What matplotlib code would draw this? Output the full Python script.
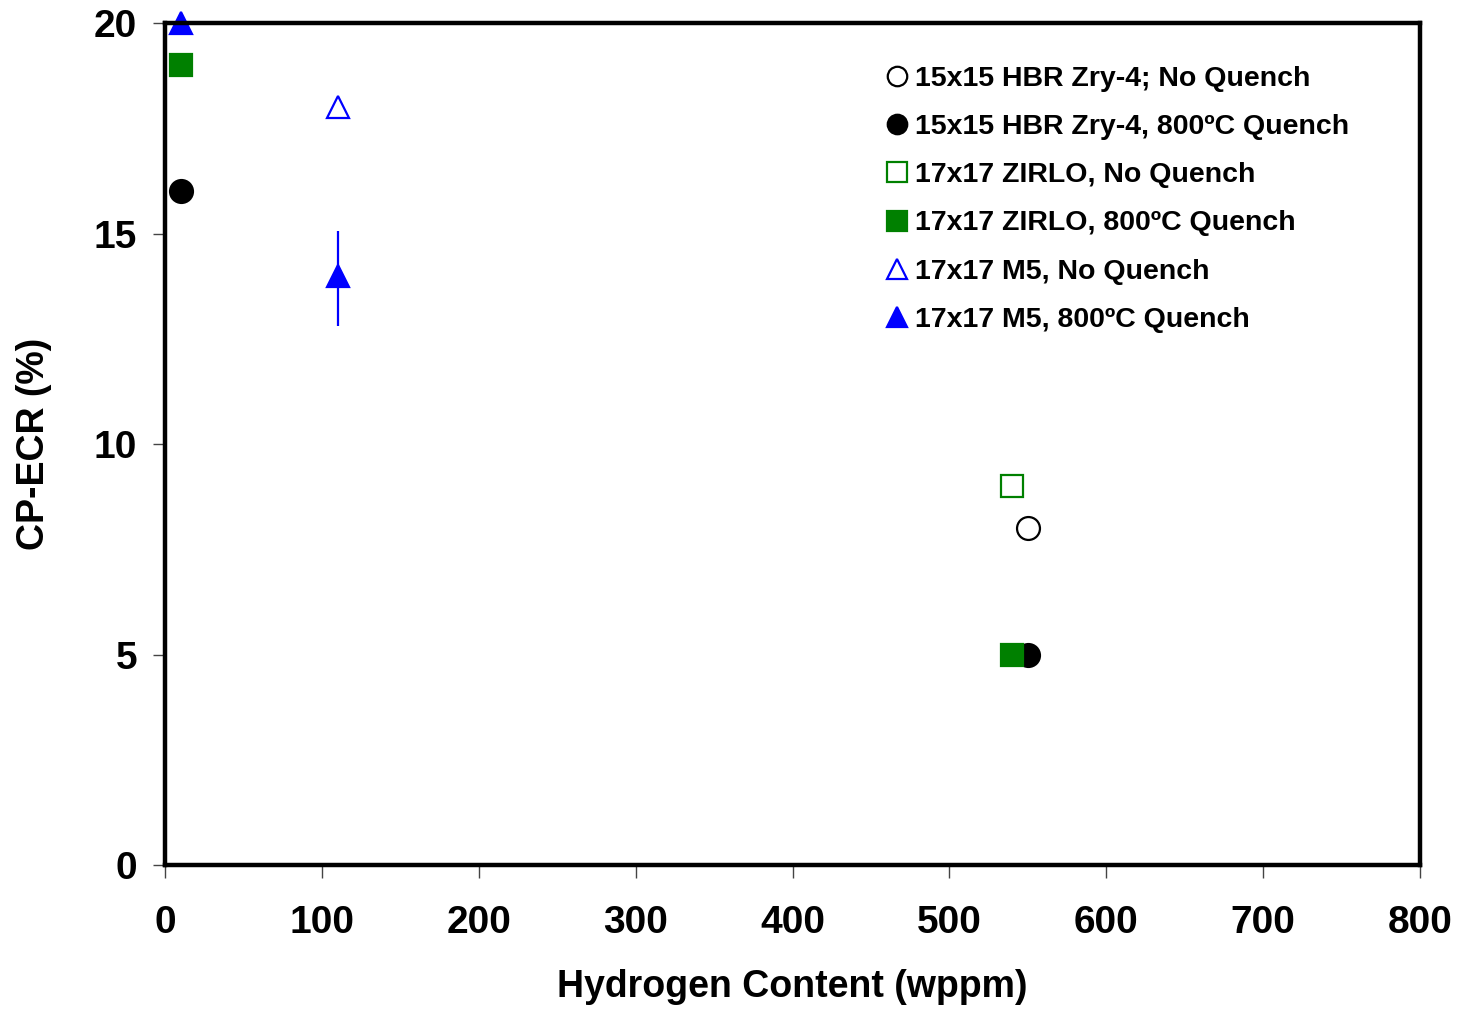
import matplotlib.pyplot as plt

plt.rcParams['font.family'] = ['Liberation Sans', 'DejaVu Sans']
plt.rcParams['font.weight'] = 'bold'

# data (hydrogen content wppm, CP-ECR %)
hbr_nq_x = [550]
hbr_nq_y = [8]
hbr_q_x = [10, 550]
hbr_q_y = [16, 5]
zirlo_nq_x = [540]
zirlo_nq_y = [9]
zirlo_q_x = [10, 540]
zirlo_q_y = [19, 5]
m5_nq_x = [110]
m5_nq_y = [18]
m5_q_x = [10, 110]
m5_q_y = [20, 14]
m5_q_err_lo = [0, 1.2]
m5_q_err_hi = [0, 1.05]

labels = ["15x15 HBR Zry-4; No Quench",
          "15x15 HBR Zry-4, 800\u00baC Quench",
          "17x17 ZIRLO, No Quench",
          "17x17 ZIRLO, 800\u00baC Quench",
          "17x17 M5, No Quench",
          "17x17 M5, 800\u00baC Quench"]

fig = plt.figure(figsize=(14.59, 10.09), dpi=100)
ax = fig.add_axes([0.1131, 0.1427, 0.8602, 0.8345])

ms = 16.5
ew = 1.6
# error bar on the M5 quenched point (no caps)
ax.errorbar(m5_q_x, m5_q_y, yerr=[m5_q_err_lo, m5_q_err_hi], fmt='none',
            ecolor='blue', elinewidth=1.6, capsize=0, clip_on=False)
ax.plot(hbr_nq_x, hbr_nq_y, 'o', ms=ms, mfc='white', mec='black', mew=ew, label=labels[0], clip_on=False)
ax.plot(hbr_q_x, hbr_q_y, 'o', ms=ms, mfc='black', mec='black', mew=ew, label=labels[1], clip_on=False)
ax.plot(zirlo_nq_x, zirlo_nq_y, 's', ms=ms, mfc='white', mec='green', mew=ew, label=labels[2], clip_on=False)
ax.plot(zirlo_q_x, zirlo_q_y, 's', ms=ms, mfc='green', mec='green', mew=ew, label=labels[3], clip_on=False)
ax.plot(m5_nq_x, m5_nq_y, '^', ms=ms, mfc='white', mec='blue', mew=ew, label=labels[4], clip_on=False)
ax.plot(m5_q_x, m5_q_y, '^', ms=ms, mfc='blue', mec='blue', mew=ew, label=labels[5], clip_on=False)

ax.set_xlim(0, 800)
ax.set_ylim(0, 20)
ax.set_xticks(range(0, 801, 100))
ax.set_yticks([0, 5, 10, 15, 20])
for s in ax.spines.values():
    s.set_linewidth(3.2)
ax.tick_params(direction='out', length=9, width=1, color='#444444', labelsize=28)
ax.tick_params(axis='x', pad=20)
ax.tick_params(axis='y', pad=11)
ax.set_xlabel('Hydrogen Content (wppm)', fontsize=27, fontweight='bold', labelpad=20)
ax.set_ylabel('CP-ECR (%)', fontsize=27, fontweight='bold', labelpad=30)

handles, labs = ax.get_legend_handles_labels()
ax.legend(handles, labs, loc='upper left', bbox_to_anchor=(0.566, 0.966), frameon=False,
          fontsize=20.5, markerscale=0.85, handlelength=0.55, handletextpad=0.35,
          labelspacing=0.78, borderpad=0)

fig.savefig('out.png', dpi=100)
